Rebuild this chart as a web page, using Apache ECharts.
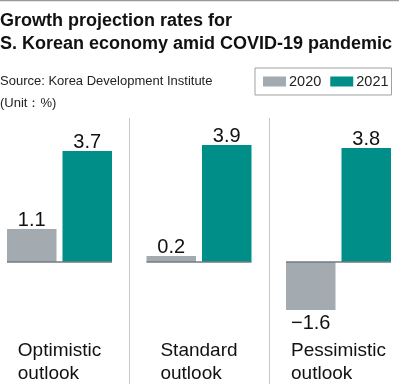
<!DOCTYPE html>
<html>
<head>
<meta charset="utf-8">
<script src="https://cdn.jsdelivr.net/npm/echarts@6/dist/echarts.min.js"></script>
<style>
html,body{margin:0;padding:0;background:#fff;}
#chart{width:399px;height:384px;}
</style>
</head>
<body>
<div id="chart"></div>
<script>
const categories = ['Optimistic\noutlook', 'Standard\noutlook', 'Pessimistic\noutlook'];
const seriesNames = ['2020', '2021'];
const values2020 = [1.1, 0.2, -1.6];
const values2021 = [3.7, 3.9, 3.8];
const titleText = 'Growth projection rates for\nS. Korean economy amid COVID-19 pandemic';
const sourceText = 'Source: Korea Development Institute\n(Unit\uFF1A%)';

const GRAY = '#a3abb1';
const TEAL = '#008f88';
const BAR_W = 49.5;
const GAP = 6;

const chart = echarts.init(document.getElementById('chart'), null, {renderer: 'canvas'});

const fmt = p => String(p.value).replace('-', '\u2212');

const valueLabel = {
  show: true,
  position: 'outside',
  distance: -1,
  formatter: fmt,
  fontFamily: 'Liberation Sans, Arial, sans-serif',
  fontSize: 20,
  color: '#111'
};

const toItems = arr => arr.map(v => (v < 0 ? {value: v, label: {distance: 3}} : {value: v}));

chart.setOption({
  animation: false,
  backgroundColor: '#fff',
  title: [
    {
      text: titleText,
      left: 0, top: 10, padding: 0,
      textStyle: {fontFamily: 'Liberation Sans, Arial, sans-serif', fontWeight: 'bold', fontSize: 18, lineHeight: 23, color: '#111'}
    },
    {
      text: sourceText,
      left: 0, top: 70, padding: 0,
      textStyle: {fontFamily: 'Liberation Sans, Arial, sans-serif', fontWeight: 'normal', fontSize: 13, lineHeight: 22, color: '#222'}
    }
  ],
  legend: {
    data: seriesNames,
    left: 255, top: 68, width: 150,
    orient: 'horizontal',
    padding: [5, 3, 5, 8],
    itemWidth: 23, itemHeight: 10, itemGap: 9,
    icon: 'rect',
    borderColor: '#a0a0a0', borderWidth: 1,
    textStyle: {fontFamily: 'Liberation Sans, Arial, sans-serif', fontSize: 14.5, lineHeight: 17, color: '#222', padding: [0, 0, 0, -2]}
  },
  graphic: [
    {type: 'line', shape: {x1: 0, y1: 0.5, x2: 399, y2: 0.5}, style: {stroke: '#999', lineWidth: 1.5}}
  ],
  grid: {left: -10.25, right: -9.25, top: 118, bottom: 0, containLabel: false, outerBoundsMode: 'none'},
  xAxis: {
    type: 'category',
    position: 'bottom',
    data: categories,
    axisLine: {show: false, onZero: false},
    axisTick: {show: false},
    splitLine: {show: true, lineStyle: {color: '#c8c8c8', width: 1}},
    axisLabel: {
      show: true,
      inside: false,
      margin: -45,
      interval: 0,
      hideOverlap: false,
      formatter: v => v.split('\n').map(l => '{a|' + l + '}').join('\n'),
      rich: {a: {align: 'left', fontFamily: 'Liberation Sans, Arial, sans-serif', fontSize: 19, lineHeight: 23, color: '#111'}}
    }
  },
  yAxis: {
    type: 'value', min: -4.0667, max: 4.8, show: false, splitLine: {show: false}
  },
  series: [
    {
      name: seriesNames[0], type: 'bar', data: toItems(values2020),
      barWidth: BAR_W, barGap: (GAP / BAR_W * 100).toFixed(1) + '%',
      itemStyle: {color: GRAY},
      label: valueLabel
    },
    {
      name: seriesNames[1], type: 'bar', data: toItems(values2021),
      barWidth: BAR_W,
      itemStyle: {color: TEAL},
      label: valueLabel
    },
    {
      type: 'custom', z: 5, silent: true,
      data: categories.map((c, i) => [i, 0]),
      renderItem: (params, api) => {
        const c = api.coord([api.value(0), api.value(1)]);
        const half = BAR_W + GAP / 2;
        return {
          type: 'line',
          shape: {x1: c[0] - half, y1: c[1], x2: c[0] + half, y2: c[1]},
          style: {stroke: '#737a80', lineWidth: 1.5}
        };
      }
    }
  ]
});
</script>
</body>
</html>
